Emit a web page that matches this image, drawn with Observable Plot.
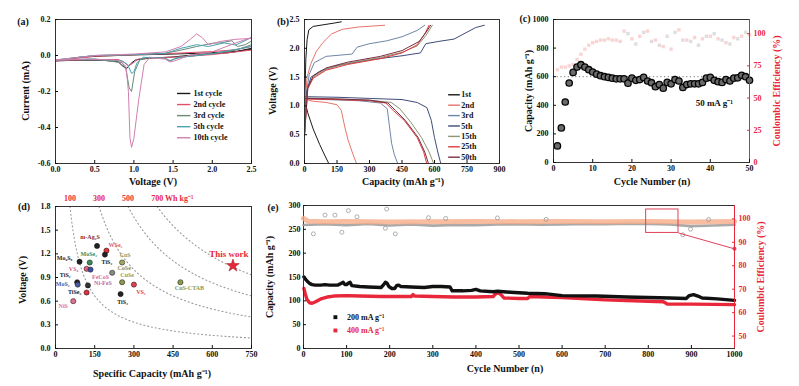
<!DOCTYPE html>
<html><head><meta charset="utf-8">
<script src="https://cdn.jsdelivr.net/npm/d3@7"></script>
<script src="https://cdn.jsdelivr.net/npm/@observablehq/plot@0.6"></script>
<style>
html,body{margin:0;padding:0;background:#fff;}
#fig{position:relative;width:799px;height:386px;overflow:hidden;background:#fff;}
</style></head><body><div id="fig"></div>
<script>
// ================= DATA =================
// (a) cyclic voltammetry: [voltage V, current mA] along each closed scan
const cvCycleNames = ["1st cycle","2nd cycle","3rd cycle","5th cycle","10th cycle"];
const cv1st = [[2.5,0.035],[2.2,0.015],[1.8,0.005],[1.5,-0.008],[1.2,-0.015],[1.02,-0.025],[0.96,-0.045],[0.91,-0.072],[0.86,-0.06],[0.8,-0.035],[0.6,-0.026],[0.3,-0.026],[0,-0.03],[0.3,-0.01],[0.6,-0.003],[1.0,0.003],[1.5,0.008],[1.8,0.012],[2.1,0.018],[2.3,0.022],[2.5,0.04]];
const cv2nd = [[2.5,0.03],[2.0,0.005],[1.5,-0.01],[1.2,-0.012],[1.05,-0.02],[0.98,-0.045],[0.93,-0.058],[0.88,-0.04],[0.8,-0.022],[0.4,-0.022],[0,-0.03],[0.5,-0.004],[1.0,0.004],[1.5,0.012],[1.8,0.018],[2.0,0.022],[2.3,0.032],[2.5,0.05]];
const cv3rd = [[2.5,0.06],[2.3,0.03],[2.0,0.01],[1.6,-0.01],[1.5,-0.022],[1.45,-0.03],[1.4,-0.016],[1.2,-0.01],[1.08,-0.02],[1.01,-0.09],[0.97,-0.2],[0.94,-0.18],[0.9,-0.08],[0.85,-0.04],[0.5,-0.02],[0,-0.025],[0.5,0],[1.0,0.005],[1.4,0.012],[1.6,0.03],[1.8,0.05],[2.0,0.068],[2.1,0.07],[2.25,0.082],[2.32,0.05],[2.42,0.06],[2.5,0.08]];
const cv5th = [[2.5,0.05],[2.0,0.01],[1.55,-0.012],[1.47,-0.03],[1.4,-0.015],[1.12,-0.01],[1.04,-0.04],[1.0,-0.09],[0.97,-0.1],[0.92,-0.05],[0.85,-0.03],[0.5,-0.02],[0,-0.025],[0.5,0],[1.0,0.005],[1.4,0.012],[1.6,0.04],[1.8,0.06],[1.95,0.05],[2.15,0.07],[2.3,0.058],[2.5,0.1]];
const cv10th = [[2.5,0.1],[2.3,0.07],[2.0,0.02],[1.7,0],[1.52,-0.03],[1.46,-0.036],[1.4,-0.02],[1.2,-0.012],[1.13,-0.05],[1.06,-0.25],[1.0,-0.46],[0.97,-0.51],[0.95,-0.46],[0.93,-0.2],[0.9,-0.06],[0.8,-0.026],[0.4,-0.02],[0,-0.025],[0.5,0],[1.0,0.008],[1.4,0.02],[1.6,0.05],[1.72,0.09],[1.8,0.12],[1.87,0.1],[1.95,0.06],[2.1,0.078],[2.3,0.09],[2.5,0.095]];
const aXTicks = [0,0.5,1.0,1.5,2.0,2.5];
const aYTicks = [-0.6,-0.4,-0.2,0,0.2];

// (b) galvanostatic curves: [capacity mAh/g, voltage V]
const bCycleNames = ["1st","2nd","3rd","5th","15th","25th","50th"];
const gcdDischarge = [
  [[0,1.15],[4,1.05],[15,0.88],[40,0.6],[70,0.33],[95,0.13],[112,0]],
  [[0,1.12],[40,1.08],[100,1.06],[150,1.02],[170,0.92],[185,0.65],[200,0.42],[220,0.2],[240,0]],
  [[0,1.13],[100,1.11],[250,1.09],[350,1.05],[382,0.95],[392,0.65],[402,0.35],[415,0.15],[430,0]],
  [[0,1.16],[150,1.15],[300,1.13],[450,1.11],[520,1.06],[565,0.97],[585,0.75],[600,0.45],[615,0.2],[629,0]],
  [[0,1.14],[150,1.12],[300,1.1],[400,1.06],[440,0.95],[490,0.72],[540,0.45],[575,0.2],[596,0]],
  [[0,1.12],[150,1.11],[300,1.09],[375,1.05],[410,0.92],[460,0.75],[520,0.45],[550,0.2],[564,0]],
  [[0,1.13],[150,1.12],[300,1.1],[385,1.05],[420,0.92],[465,0.75],[525,0.45],[555,0.2],[572,0]]
];
const gcdCharge = [
  [[0,0.45],[2,1.2],[6,1.8],[12,2.15],[20,2.32],[40,2.38],[90,2.41],[140,2.44],[170,2.46]],
  [[0,0.4],[4,1.1],[12,1.5],[28,1.72],[55,1.95],[85,2.1],[125,2.25],[175,2.33],[250,2.37],[370,2.4]],
  [[0,0.5],[8,1.2],[22,1.55],[45,1.75],[100,1.86],[220,1.9],[243,2.02],[300,2.08],[380,2.13],[450,2.2],[520,2.31],[555,2.4]],
  [[0,0.5],[10,1.25],[30,1.5],[70,1.6],[150,1.7],[300,1.8],[450,1.87],[535,1.92],[560,2.08],[620,2.12],[690,2.16],[745,2.27],[790,2.36],[830,2.4]],
  [[0,0.5],[15,1.3],[40,1.5],[100,1.64],[200,1.74],[350,1.84],[450,1.93],[520,2.04],[560,2.22],[590,2.4]],
  [[0,0.5],[15,1.3],[40,1.48],[100,1.62],[200,1.72],[350,1.82],[450,1.92],[520,2.06],[555,2.25],[575,2.4]],
  [[0,0.5],[15,1.32],[40,1.52],[100,1.66],[200,1.76],[350,1.86],[450,1.96],[530,2.12],[565,2.3],[582,2.4]]
];
const bXTicks = [0,150,300,450,600,750,900];
const bYTicks = [0,0.5,1.0,1.5,2.0,2.5];

// (c) cycling at 50 mA/g
const cCycles = d3.range(1, 51);
const cCapacity = [116,242,423,556,630,667,684,667,649,633,618,607,600,595,590,585,585,585,555,590,575,580,595,570,558,530,545,520,560,550,580,570,525,545,550,550,550,560,590,595,575,565,560,580,570,590,592,610,600,575];
const cCE = [72,74,74,75,76,80,84,88,91,93,94,95,95,96,95,95,94,102,100,96,92,98,101,102,94,95,91,90,98,88,101,103,95,95,94,97,91,96,98,98,100,96,95,93,92,97,96,98,101,99];
const cRefCapacity = [600];
const cXTicks = [0,10,20,30,40,50];
const cYTicks = [0,200,400,600,800,1000];
const cCETicks = [0,25,50,75,100];

// (d) comparison: name, capacity (mAh/g), voltage (V)
const dNames = ["m-Ag₂S","WSe₂","TiS₂","Mo₆S₈","MoSe₂","CuS","CoSe","VS₄","FeCoS","TiS₂","MoS₂","Ni-FeS","TiSe₂","NiS","CuSe","TiS₂","VS₂","CuS-CTAB"];
const dCapacity = [159,195,189,92,131,255,217,119,134,83,85,124,119,68,255,249,300,478];
const dVoltage = [1.30,1.24,1.19,1.10,1.09,1.09,0.96,1.01,1.00,0.84,0.81,0.80,0.71,0.60,0.84,0.69,0.81,0.84];
const thisWork = {name: "This work", capacity: 679, voltage: 1.05};
const energyLevels = [100,300,500,700];
const dXTicks = [0,150,300,450,600,750];
const dYTicks = [0,0.3,0.6,0.9,1.2,1.5,1.8];

// (e) long cycling: [cycle, capacity]
const cap200 = [[1,150],[5,145],[10,140],[15,136],[20,134],[27,133],[40,133],[50,134],[60,133],[80,133],[88,137],[92,139],[96,134],[100,134],[105,138],[108,139],[112,132],[130,130],[150,129],[180,128],[186,134],[190,139],[194,137],[198,130],[205,126],[212,126],[216,132],[220,133],[226,130],[250,129],[280,128],[300,130],[320,130],[340,129],[345,121],[370,121],[390,122],[400,124],[410,121],[440,119],[450,120],[480,118],[520,116],[560,115],[580,113],[600,111],[680,110],[750,108],[800,107],[850,106],[888,105],[895,111],[905,113],[915,110],[925,106],[960,104],[1000,101]];
const cap400 = [[1,126],[4,115],[8,103],[14,96],[20,95],[28,98],[40,104],[55,108],[70,110],[100,111],[130,110],[180,109],[250,109],[254,113],[258,110],[300,109],[350,108],[400,108],[440,109],[445,114],[452,117],[458,113],[465,106],[500,105],[520,105],[525,109],[560,108],[600,107],[700,102],[800,99],[835,98],[845,93],[900,93],[1000,92]];
const ceBand400 = [[0,100.2],[10,99.0],[50,98.8],[100,98.9],[200,98.7],[300,98.8],[400,98.9],[500,98.8],[600,98.9],[700,98.8],[800,98.9],[900,98.7],[1000,98.9]];
const ceBand200 = [[0,97.4],[50,97.7],[100,97.3],[150,97.8],[200,97.2],[250,97.6],[300,97.1],[350,97.4],[400,97.3],[450,97.6],[500,97.7],[550,97.5],[600,97.6],[650,97.8],[700,97.7],[750,97.9],[800,97.8],[850,97.6],[900,96.9],[950,97.2],[1000,97.5]];
const ceOutliers = [[23,93.6],[50,101.6],[73,101.6],[89,94.3],[104,103.5],[124,100.9],[190,96],[193,104.2],[213,93.6],[290,100.5],[330,100.2],[450,100.4],[563,99.8],[880,93.2],[898,95.6],[940,99.7]];
const zoomWindow = {cycles: [795, 870], ce: [94, 104]};
const calloutEnd = {cycle: 1000, ce: 87.2};
const eXTicks = d3.range(0, 1001, 100);
const eYTicks = [0,50,100,150,200,250,300];
const eCETicks = [50,60,70,80,90,100];
const eLegend = [{name: "200 mA g⁻¹"}, {name: "400 mA g⁻¹"}];

// ================= STYLE =================
const SERIF = '"Liberation Serif","Times New Roman",serif';
const baseStyle = {fontFamily: SERIF, fontSize: "8px", fontWeight: "bold", background: "transparent", color: "#111", overflow: "visible"};
const RED = "#e8283a";
const cvColors = ["#1a1a1a","#e0506a","#6b8a78","#4aa3b3","#d27fb0"];
const bColors = ["#1a1a1a","#e8736a","#6e86a6","#404c7a","#8c9470","#e23b3b","#7a2f45"];
const dDotColors = {"m-Ag₂S":"#222","WSe₂":"#e0303a","TiS₂":"#222","Mo₆S₈":"#222","MoSe₂":"#3a8a5a","CuS":"#a0a860","CoSe":"#8a8a80","VS₄":"#e0607a","FeCoS":"#4050a0","MoS₂":"#4a5aa0","Ni-FeS":"#333","TiSe₂":"#e03040","NiS":"#e07090","CuSe":"#8a9a50","VS₂":"#e04050","CuS-CTAB":"#8a9a50"};
const dLabelColors = {"m-Ag₂S":"#8a2a2a","WSe₂":"#e05a6a","MoSe₂":"#3a8a5a","CuS":"#9a9a50","CoSe":"#8a8a60","VS₄":"#e05a7a","FeCoS":"#d070a0","MoS₂":"#4a5aa0","Ni-FeS":"#b070b0","NiS":"#e07090","CuSe":"#9a9a50","VS₂":"#e04050","CuS-CTAB":"#8a9a50"};
const dLabelOffsets = [[-7,-9],[9,-6],[2,7],[-15,-4],[-1,-8],[3,-7],[12,-5],[-13,0],[10,7],[-12,-7],[-15,-1],[15,-2],[-12,0],[-10,5],[5,-7],[2,8],[7,7],[9,6]];

const TICK = -3;
const fmt1 = d => d.toFixed(1);
function xAxis(ticks, tickFormat, opts = {}) { return Plot.axisX({ticks, tickFormat, tickSize: TICK, tickPadding: 6, label: null, ...opts}); }
function yAxis(ticks, tickFormat, opts = {}) { return Plot.axisY({ticks, tickFormat, tickSize: TICK, tickPadding: 8, label: null, ...opts}); }

const fig = document.getElementById("fig");
function place(el, left, top) { el.style.position = "absolute"; el.style.left = left + "px"; el.style.top = top + "px"; fig.appendChild(el); }
function label(text, x, y, {rotate = 0, size = 10, color = "#111"} = {}) {
  const d = document.createElement("div");
  d.textContent = text;
  d.style.cssText = `position:absolute;left:${x}px;top:${y}px;transform:translate(-50%,-50%) rotate(${rotate}deg);white-space:nowrap;font:bold ${size}px ${SERIF};color:${color};line-height:1;`;
  fig.appendChild(d);
}

// ================= (a) =================
const cvTable = [cv1st, cv2nd, cv3rd, cv5th, cv10th].flatMap((pts, i) => pts.map(([v, c]) => ({cycle: cvCycleNames[i], v, c})));
const cvLegend = cvCycleNames.map((cycle, i) => ({cycle, y: -0.211 - i * 0.0615}));
place(Plot.plot({
  width: 262, height: 190, marginLeft: 55, marginRight: 11, marginTop: 19, marginBottom: 27,
  style: baseStyle,
  x: {domain: [0, 2.5]}, y: {domain: [-0.6, 0.2]},
  color: {domain: cvCycleNames, range: cvColors},
  marks: [
    Plot.line(cvTable, {x: "v", y: "c", z: "cycle", stroke: "cycle", strokeWidth: 1}),
    Plot.link(cvLegend, {x1: 1.55, x2: 1.72, y1: "y", y2: "y", stroke: "cycle", strokeWidth: 1.4}),
    Plot.text(cvLegend, {x: 1.76, y: "y", text: "cycle", textAnchor: "start", fontSize: 8}),
    Plot.frame({stroke: "#333"}),
    xAxis(aXTicks, fmt1), yAxis(aYTicks, fmt1)
  ]
}), 0, 0);
label("(a)", 23, 22, {size: 10});
label("Current (mA)", 26, 91, {rotate: -90});
label("Voltage (V)", 153, 182);

// ================= (b) =================
const gcdTable = [];
bCycleNames.forEach((cycle, i) => {
  gcdDischarge[i].forEach(([cap, v]) => gcdTable.push({cycle, kind: "dis", cap, v}));
  gcdCharge[i].forEach(([cap, v]) => gcdTable.push({cycle, kind: "chg", cap, v}));
});
const bLegend = bCycleNames.map((cycle, i) => ({cycle, y: 1.193 - i * 0.1806}));
place(Plot.plot({
  width: 245, height: 190, marginLeft: 42, marginRight: 8, marginTop: 19, marginBottom: 27,
  style: baseStyle,
  x: {domain: [0, 900]}, y: {domain: [0, 2.5]},
  color: {domain: bCycleNames, range: bColors},
  marks: [
    Plot.line(gcdTable, {x: "cap", y: "v", z: d => d.cycle + d.kind, stroke: "cycle", strokeWidth: 1}),
    Plot.link(bLegend, {x1: 663, x2: 717, y1: "y", y2: "y", stroke: "cycle", strokeWidth: 1.4}),
    Plot.text(bLegend, {x: 724, y: "y", text: "cycle", textAnchor: "start", fontSize: 8}),
    Plot.frame({stroke: "#333"}),
    xAxis(bXTicks, d => String(d)), yAxis(bYTicks, fmt1)
  ]
}), 262, 0);
label("(b)", 283, 22, {size: 10});
label("Voltage (V)", 273, 91, {rotate: -90});
label("Capacity (mAh g⁻¹)", 403, 182);

// ================= (c) =================
const cTable = cCycles.map((n, i) => ({n, cap: cCapacity[i], ce: cCE[i]}));
const cePink = cTable.filter(d => d.n < 18 || d.n % 2 === 0);
const ceGray = cTable.filter(d => d.n >= 18 && d.n % 2 === 1);
place(Plot.plot({
  width: 292, height: 190, marginLeft: 46, marginRight: 50, marginTop: 19, marginBottom: 28,
  style: baseStyle,
  x: {domain: [0, 50], axis: null}, y: {domain: [0, 111]},
  marks: [
    Plot.dot(cePink, {x: "n", y: "ce", symbol: "square", r: 1.9, fill: "#f3a0a0", fillOpacity: 0.45}),
    Plot.dot(ceGray, {x: "n", y: "ce", symbol: "square", r: 1.9, fill: "#bdbdbd", fillOpacity: 0.5}),
    Plot.ruleX([50], {stroke: RED}),
    yAxis(cCETicks, d => String(d), {anchor: "right", color: RED, tickPadding: 7})
  ]
}), 507, 0);
place(Plot.plot({
  width: 292, height: 190, marginLeft: 46, marginRight: 50, marginTop: 19, marginBottom: 28,
  style: baseStyle,
  x: {domain: [0, 50]}, y: {domain: [0, 1000]},
  marks: [
    Plot.ruleY(cRefCapacity, {stroke: "#777", strokeDasharray: "1.2,2.5", strokeWidth: 1}),
    Plot.dot(cTable, {x: "n", y: "cap", r: 3.2, fill: "#6a6a6a", stroke: "#050505", strokeWidth: 1.3}),
    Plot.text(["50 mA g⁻¹"], {x: 41, y: 413, text: d => d, fontSize: 9}),
    Plot.frame({stroke: "#333"}),
    Plot.ruleX([50], {stroke: RED}),
    xAxis(cXTicks, d => String(d)), yAxis(cYTicks, d => String(d))
  ]
}), 507, 0);
label("(c)", 525, 19, {size: 10});
label("Capacity (mAh g⁻¹)", 529, 91, {rotate: -90});
label("Coulombic Efficiency (%)", 777, 91, {rotate: -90, color: RED});
label("Cycle Number (n)", 652, 182);

// ================= (d) =================
const dTable = dNames.map((name, i) => ({name, c: dCapacity[i], v: dVoltage[i], i}));
const isoTable = energyLevels.flatMap(E => d3.range(E / 1.8, 751, 5).map(c => ({E, c, v: E / c})));
const energyLabels = energyLevels.map((E, i) => ({c: E / 1.8, v: 1.8, text: i === energyLevels.length - 1 ? `${E} Wh kg⁻¹` : String(E)}));
place(Plot.plot({
  width: 262, height: 196, marginLeft: 55, marginRight: 11, marginTop: 16, marginBottom: 38,
  style: baseStyle,
  x: {domain: [0, 750]}, y: {domain: [0, 1.8]},
  marks: [
    Plot.line(isoTable, {x: "c", y: "v", z: "E", stroke: "#9a9a9a", strokeWidth: 1.1, strokeDasharray: "1.1,2.8", clip: true}),
    Plot.text(energyLabels, {x: "c", y: "v", text: "text", textAnchor: "start", dx: -6, dy: -8, fill: RED, fontSize: 8}),
    Plot.dot(dTable, {x: "c", y: "v", r: 2.6, fill: d => dDotColors[d.name], stroke: "#111", strokeWidth: 0.5}),
    ...dTable.map(d => Plot.text([d], {x: "c", y: "v", text: "name", dx: dLabelOffsets[d.i][0], dy: dLabelOffsets[d.i][1], fontSize: 6, fill: dLabelColors[d.name] || "#222"})),
    Plot.dot([thisWork], {x: "capacity", y: "voltage", symbol: "star", r: 4, fill: RED, stroke: "#a01010", strokeWidth: 0.5}),
    Plot.text([thisWork], {x: "capacity", y: "voltage", text: "name", dx: -4, dy: -12, fill: RED, fontSize: 9}),
    Plot.frame({stroke: "#333"}),
    xAxis(dXTicks, d => String(d)), yAxis(dYTicks, fmt1)
  ]
}), 0, 190);
label("(d)", 24, 207, {size: 10});
label("Voltage (V)", 23, 280, {rotate: -90});
label("Specific Capacity (mAh g⁻¹)", 152, 374);

// ================= (e) =================
const e200 = cap200.map(([n, cap]) => ({n, cap}));
const e400 = cap400.map(([n, cap]) => ({n, cap}));
const eLegendTable = eLegend.map((d, i) => ({...d, y: 65.7 - i * 27.9, color: i === 0 ? "#111" : RED}));
place(Plot.plot({
  width: 537, height: 196, marginLeft: 41, marginRight: 65, marginTop: 15, marginBottom: 38,
  style: baseStyle,
  x: {domain: [0, 1000]}, y: {domain: [0, 300]},
  marks: [
    Plot.line(e400, {x: "n", y: "cap", stroke: RED, strokeWidth: 3.4}),
    Plot.line(e200, {x: "n", y: "cap", stroke: "#111", strokeWidth: 3.4}),
    Plot.dot(eLegendTable, {x: 74, y: "y", symbol: "square", r: 2.2, fill: d => d.color}),
    Plot.text(eLegendTable, {x: 101, y: "y", text: "name", textAnchor: "start", fill: d => d.color, fontSize: 8}),
    Plot.frame({stroke: "#333"}),
    xAxis(eXTicks, d => String(d)), yAxis(eYTicks, d => String(d), {tickPadding: 6})
  ]
}), 262, 190);
place(Plot.plot({
  width: 537, height: 196, marginLeft: 41, marginRight: 65, marginTop: 15, marginBottom: 38,
  style: baseStyle,
  x: {domain: [0, 1000], axis: null}, y: {domain: [44.7, 105.7]},
  marks: [
    Plot.line(ceBand200.map(([n, ce]) => ({n, ce})), {x: "n", y: "ce", stroke: "#9a9a9a", strokeWidth: 2.6, strokeOpacity: 0.85}),
    Plot.line(ceBand400.map(([n, ce]) => ({n, ce})), {x: "n", y: "ce", stroke: "#f6ab88", strokeWidth: 5, strokeOpacity: 0.8}),
    Plot.dot(ceOutliers.map(([n, ce]) => ({n, ce})), {x: "n", y: "ce", r: 2, stroke: "#9a9a9a", strokeWidth: 0.8}),
    Plot.rect([zoomWindow], {x1: d => d.cycles[0], x2: d => d.cycles[1], y1: d => d.ce[0], y2: d => d.ce[1], fill: "none", stroke: "#e0405a", strokeWidth: 1}),
    Plot.link([{zoomWindow, calloutEnd}], {x1: d => d.zoomWindow.cycles[1], y1: d => d.zoomWindow.ce[0], x2: d => d.calloutEnd.cycle, y2: d => d.calloutEnd.ce, stroke: "#e0405a", strokeWidth: 1}),
    Plot.dot([calloutEnd], {x: "cycle", y: "ce", r: 2, fill: "#e0405a"}),
    Plot.ruleX([1000], {stroke: RED}),
    yAxis(eCETicks, d => String(d), {anchor: "right", color: RED, tickPadding: 7})
  ]
}), 262, 190);
label("(e)", 273, 208, {size: 10});
label("Capacity (mAh g⁻¹)", 270, 277, {rotate: -90});
label("Coulombic Efficiency (%)", 761, 277, {rotate: -90, color: RED});
label("Cycle Number (n)", 505, 369);
</script></body></html>
